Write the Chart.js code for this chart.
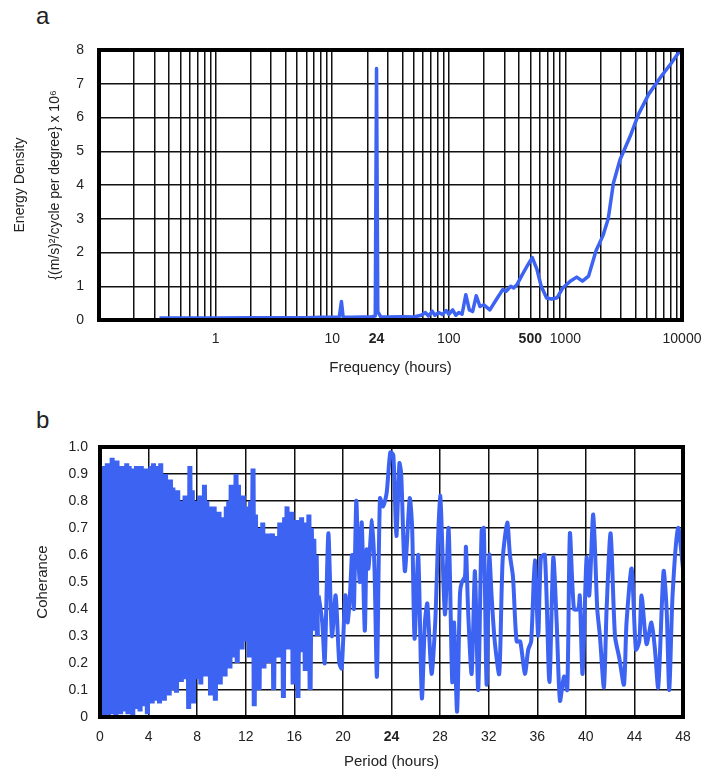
<!DOCTYPE html>
<html>
<head>
<meta charset="utf-8">
<script src="https://cdn.jsdelivr.net/npm/chart.js@4/dist/chart.umd.min.js"></script>
<style>
    body { margin: 0; background: #fff; font-family: "Liberation Sans", Arial, sans-serif; }
    #wrap { position: relative; width: 710px; height: 772px; }
    canvas { position: absolute; left: 0; }
    .panel { position: absolute; left: 36px; font-size: 24px; color: #222; line-height: 1; }
</style>
</head>
<body>
<div id="wrap">
    <div class="panel" style="top:4px">a</div>
    <canvas id="energyChart" width="710" height="385" style="top:0"></canvas>
    <div class="panel" style="top:408px">b</div>
    <canvas id="coherenceChart" width="710" height="387" style="top:385px"></canvas>
</div>
<script>
// Panel a - densité d'énergie en fonction de la fréquence (heures)
const freqHours = [0.33, 0.5, 1, 2, 4, 6, 8, 10, 11.5, 12,
    12.4, 15, 18, 22, 23.4, 24, 24.6, 26, 30, 40,
    50, 58, 63, 67, 72, 76, 82, 88, 95, 100,
    108, 115, 122, 130, 140, 150, 160, 172, 185, 200,
    225, 255, 290, 310, 340, 360, 385, 420, 470, 520,
    570, 620, 690, 760, 850, 950, 1100, 1250, 1400, 1580,
    1830, 2100, 2330, 2580, 2940, 3600, 4240, 5200, 6570, 8050,
    9700];
const energyDensity = [0.06, 0.06, 0.06, 0.07, 0.07, 0.07, 0.08, 0.08, 0.09, 0.55,
    0.09, 0.08, 0.09, 0.1, 0.12, 7.45, 0.25, 0.1, 0.09, 0.1,
    0.09, 0.14, 0.22, 0.12, 0.26, 0.14, 0.22, 0.16, 0.28, 0.17,
    0.3, 0.14, 0.22, 0.17, 0.75, 0.3, 0.25, 0.72, 0.4, 0.45,
    0.3, 0.6, 0.9, 0.85, 1.0, 0.95, 1.05, 1.3, 1.6, 1.85,
    1.5, 1.0, 0.65, 0.62, 0.66, 0.95, 1.15, 1.27, 1.15, 1.3,
    2.05, 2.5, 3.0, 4.05, 4.75, 5.45, 6.1, 6.7, 7.2, 7.6,
    8.0];
const freqDecades = [0.1, 1, 10, 100, 1000];
const gridMantissas = [1, 2, 3, 4, 5, 6, 7, 8, 9];
const freqTickLabels = [1, 10, 24, 100, 500, 1000, 10000];
const boldTicks = [24, 500];

// Panel b - cohérence en fonction de la période (heures)
const denseStep = 0.1; // échantillonnage 0 .. 17.9 h
const denseCoherence = [
    0.90, 0.01, 0.93, 0.00, 0.92, 0.02, 0.94, 0.00, 0.91, 0.01,
    0.96, 0.02, 0.93, 0.00, 0.95, 0.03, 0.92, 0.01, 0.93, 0.02,
    0.90, 0.05, 0.94, 0.01, 0.93, 0.06, 0.91, 0.00, 0.92, 0.03,
    0.93, 0.06, 0.89, 0.02, 0.93, 0.08, 0.90, 0.04, 0.92, 0.01,
    0.90, 0.07, 0.93, 0.05, 0.94, 0.09, 0.88, 0.06, 0.93, 0.05,
    0.94, 0.10, 0.86, 0.06, 0.90, 0.12, 0.87, 0.08, 0.88, 0.10,
    0.85, 0.12, 0.82, 0.09, 0.84, 0.15, 0.80, 0.13, 0.78, 0.16,
    0.82, 0.14, 0.79, 0.03, 0.93, 0.10, 0.84, 0.05, 0.80, 0.14,
    0.78, 0.15, 0.82, 0.12, 0.76, 0.20, 0.86, 0.15, 0.80, 0.18,
    0.78, 0.08, 0.75, 0.20, 0.78, 0.06, 0.70, 0.22, 0.76, 0.12,
    0.74, 0.25, 0.72, 0.15, 0.78, 0.28, 0.80, 0.18, 0.86, 0.22,
    0.83, 0.30, 0.90, 0.20, 0.86, 0.32, 0.78, 0.25, 0.82, 0.35,
    0.76, 0.28, 0.78, 0.22, 0.80, 0.36, 0.92, 0.04, 0.75, 0.30,
    0.70, 0.10, 0.68, 0.32, 0.72, 0.18, 0.66, 0.35, 0.68, 0.20,
    0.65, 0.36, 0.68, 0.10, 0.64, 0.30, 0.67, 0.22, 0.72, 0.38,
    0.66, 0.07, 0.74, 0.34, 0.78, 0.25, 0.70, 0.38, 0.76, 0.12,
    0.70, 0.30, 0.73, 0.07, 0.68, 0.36, 0.74, 0.24, 0.66, 0.17,
    0.72, 0.36, 0.75, 0.10, 0.70, 0.32, 0.66, 0.38, 0.60, 0.30
];
const periodHours = [18.0, 18.3, 18.5, 18.8, 19.1, 19.4, 19.7, 19.9, 20.2, 20.4,
    20.6, 20.75, 20.9, 21.1, 21.25, 21.4, 21.55, 21.8, 21.95, 22.1,
    22.4, 22.6, 22.8, 23.05, 23.3, 23.6, 23.9, 24.15, 24.4, 24.65,
    24.8, 25.1, 25.5, 25.7, 25.9, 26.2, 26.5, 26.75, 26.95, 27.3,
    27.6, 28.0, 28.4, 28.7, 29.0, 29.15, 29.4, 29.64, 29.8, 30.05,
    30.13, 30.32, 30.6, 30.87, 31.14, 31.42, 31.6, 31.83, 32.05, 32.24,
    32.5, 32.87, 33.15, 33.53, 33.75, 34.0, 34.3, 34.6, 34.98, 35.26,
    35.5, 35.8, 36.08, 36.3, 36.63, 37.0, 37.32, 37.6, 37.87, 38.2,
    38.47, 38.69, 39.02, 39.38, 39.5, 39.73, 40.06, 40.28, 40.61, 40.94,
    41.16, 41.49, 41.71, 42.04, 42.4, 42.75, 43.14, 43.35, 43.77, 44.12,
    44.4, 44.59, 45.0, 45.4, 45.69, 45.96, 46.4, 46.65, 46.87, 47.14,
    47.6, 48.0];
const periodCoherence = [0.45, 0.35, 0.2, 0.68, 0.3, 0.45, 0.2, 0.18, 0.45, 0.35,
    0.47, 0.6, 0.4, 0.8, 0.6, 0.5, 0.72, 0.32, 0.62, 0.55,
    0.73, 0.55, 0.15, 0.81, 0.78, 0.83, 0.98, 0.97, 0.67, 0.94,
    0.9, 0.54, 0.81, 0.7, 0.29, 0.6, 0.07, 0.35, 0.42, 0.16,
    0.35, 0.82, 0.38, 0.7, 0.13, 0.35, 0.02, 0.46, 0.5, 0.52,
    0.63, 0.38, 0.16, 0.54, 0.1, 0.69, 0.7, 0.12, 0.6, 0.45,
    0.28, 0.16, 0.58, 0.72, 0.6, 0.52, 0.28, 0.28, 0.16, 0.25,
    0.28, 0.58, 0.3, 0.59, 0.6, 0.13, 0.59, 0.35, 0.06, 0.15,
    0.1, 0.68, 0.4, 0.4, 0.45, 0.16, 0.59, 0.45, 0.75, 0.4,
    0.3, 0.11, 0.4, 0.68, 0.3, 0.22, 0.12, 0.35, 0.55, 0.25,
    0.28, 0.45, 0.27, 0.35, 0.25, 0.11, 0.54, 0.4, 0.1, 0.45,
    0.70, 0.55];

const BLUE = '#3d63f2';
const FONT = '"Liberation Sans", Arial, sans-serif';
const GRID = '#111';

// cadre noir épais autour de la zone de tracé
const framePlugin = {
    id: 'frame',
    afterDatasetsDraw(chart) {
        const a = chart.chartArea;
        const ctx = chart.ctx;
        ctx.save();
        ctx.strokeStyle = '#000';
        ctx.lineWidth = 4;
        ctx.strokeRect(a.left, a.top, a.right - a.left, a.bottom - a.top);
        ctx.restore();
    }
};

function tickFont(ctx) {
    const v = ctx.tick ? ctx.tick.value : null;
    return { family: FONT, size: 14, weight: boldTicks.includes(v) ? 'bold' : 'normal' };
}

// Graphique a
const freqGrid = [];
freqDecades.forEach(d => gridMantissas.forEach(m => freqGrid.push(m * d)));
freqGrid.push(10000);

new Chart(document.getElementById('energyChart'), {
    type: 'line',
    data: {
        datasets: [{
            data: freqHours.map((h, i) => ({ x: h, y: energyDensity[i] })),
            borderColor: BLUE,
            borderWidth: 3.5,
            pointRadius: 0,
            tension: 0,
            borderJoinStyle: 'round'
        }]
    },
    options: {
        responsive: false,
        animation: false,
        layout: { padding: { top: 50, right: 28, left: 0, bottom: 0 } },
        plugins: { legend: { display: false }, tooltip: { enabled: false } },
        scales: {
            x: {
                type: 'logarithmic',
                min: 0.1,
                max: 10000,
                afterBuildTicks: scale => {
                    scale.ticks = freqGrid.concat([24]).map(v => ({ value: v }));
                },
                afterFit: scale => { scale.height = 65; },
                grid: {
                    color: ctx => (ctx.tick && ctx.tick.value === 24) ? 'rgba(0,0,0,0)' : GRID,
                    lineWidth: 1.5,
                    drawTicks: false
                },
                border: { display: false },
                ticks: {
                    autoSkip: false,
                    maxRotation: 0,
                    padding: 11,
                    color: '#222',
                    font: tickFont,
                    callback: v => freqTickLabels.includes(v) ? String(v) : ''
                },
                title: {
                    display: true,
                    text: 'Frequency (hours)',
                    color: '#222',
                    font: { family: FONT, size: 15 },
                    padding: { top: 0, bottom: 8 }
                }
            },
            y: {
                min: 0,
                max: 8,
                ticks: { stepSize: 1, padding: 15, color: '#222', font: { family: FONT, size: 14 } },
                afterFit: scale => { scale.width = 99; },
                grid: { color: GRID, lineWidth: 1.5, drawTicks: false },
                border: { display: false },
                title: {
                    display: true,
                    text: ['Energy Density', '{(m/s)\u00b2/cycle per degree} x 10\u2076'],
                    color: '#222',
                    font: { family: FONT, size: 14, lineHeight: '35px' },
                    padding: { top: 3, bottom: 0 }
                }
            }
        }
    },
    plugins: [framePlugin]
});

// Graphique b
new Chart(document.getElementById('coherenceChart'), {
    type: 'line',
    data: {
        datasets: [{
            data: denseCoherence.map((c, i) => ({ x: i * denseStep, y: c })),
            borderColor: BLUE,
            borderWidth: 5,
            pointRadius: 0,
            tension: 0
        }, {
            data: periodHours.map((h, i) => ({ x: h, y: periodCoherence[i] })),
            borderColor: BLUE,
            borderWidth: 4,
            pointRadius: 0,
            tension: 0.25,
            borderJoinStyle: 'round'
        }]
    },
    options: {
        responsive: false,
        animation: false,
        layout: { padding: { top: 62, right: 27, left: 0, bottom: 0 } },
        plugins: { legend: { display: false }, tooltip: { enabled: false } },
        scales: {
            x: {
                type: 'linear',
                min: 0,
                max: 48,
                afterFit: scale => { scale.height = 55; },
                grid: { color: GRID, lineWidth: 1.5, drawTicks: false },
                border: { display: false },
                ticks: { stepSize: 4, maxRotation: 0, padding: 12, color: '#222', font: tickFont },
                title: {
                    display: true,
                    text: 'Period (hours)',
                    color: '#222',
                    font: { family: FONT, size: 15 },
                    padding: { top: 0, bottom: 1 }
                }
            },
            y: {
                min: 0,
                max: 1,
                afterFit: scale => { scale.width = 100; },
                grid: { color: GRID, lineWidth: 1.5, drawTicks: false },
                border: { display: false },
                ticks: {
                    stepSize: 0.1,
                    padding: 12,
                    color: '#222',
                    font: { family: FONT, size: 14 },
                    callback: v => v === 0 ? '0' : v.toFixed(1)
                },
                title: {
                    display: true,
                    text: 'Coherance',
                    color: '#222',
                    font: { family: FONT, size: 15 },
                    padding: { top: 34, bottom: 0 }
                }
            }
        }
    },
    plugins: [framePlugin]
});
</script>
</body>
</html>
